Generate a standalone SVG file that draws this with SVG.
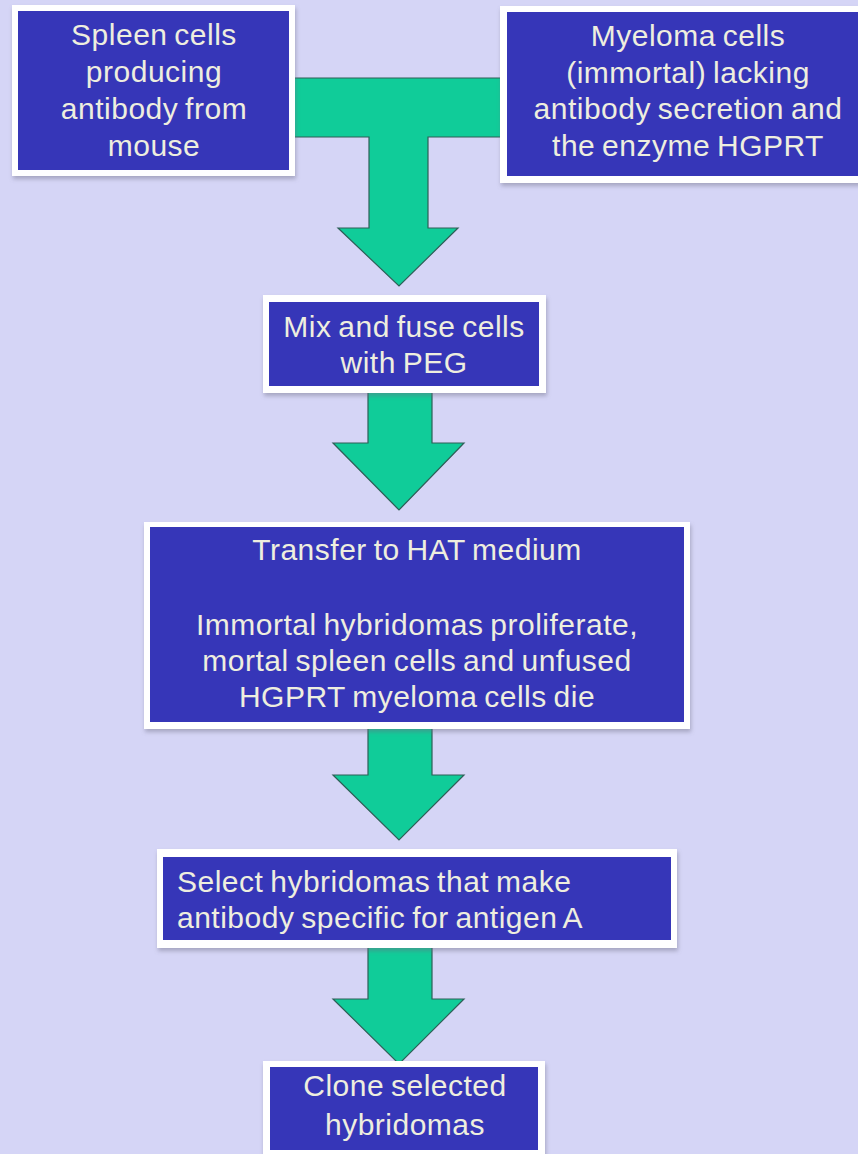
<svg xmlns="http://www.w3.org/2000/svg" width="858" height="1154" viewBox="0 0 858 1154">
  <defs>
    <filter id="shadow" x="-10%" y="-10%" width="120%" height="130%">
      <feDropShadow dx="1" dy="3" stdDeviation="2" flood-color="#6a6a80" flood-opacity="0.45"/>
    </filter>
    <style>
      .frame { fill: #ffffff; filter: url(#shadow); }
      .panel { fill: #3636b8; }
      .label { font-family: "Liberation Sans", Arial, sans-serif; font-size: 30px; fill: #eeeedf; letter-spacing: 0.5px; word-spacing: -2px; }
      .mid { text-anchor: middle; }
      .arrow { fill: #10cc99; stroke: #2e5f57; stroke-width: 1.2; stroke-linejoin: miter; }
    </style>
  </defs>

  <!-- background -->
  <rect x="0" y="0" width="858" height="1154" fill="#d5d5f6"/>

  <!-- connectors: block arrows drawn under the boxes -->
  <g id="connectors">
    <path class="arrow" d="M 290 78 H 505 V 137 H 428 V 228 H 458 L 399 286 L 338 228 H 369 V 137 H 290 Z"/>
    <path class="arrow" d="M 368 388 H 432 V 443 H 464 L 399 510 L 333 443 H 368 Z"/>
    <path class="arrow" d="M 368 724 H 432 V 775 H 464 L 399 840 L 333 775 H 368 Z"/>
    <path class="arrow" d="M 368 944 H 432 V 999 H 464 L 399 1064 L 333 999 H 368 Z"/>
  </g>

  <!-- source: spleen cells -->
  <g id="spleen">
    <rect class="frame" x="12" y="5" width="283" height="171"/>
    <rect class="panel" x="18" y="11" width="271" height="159"/>
    <text class="label mid" x="154" y="45">Spleen cells</text>
    <text class="label mid" x="154" y="82">producing</text>
    <text class="label mid" x="154" y="119">antibody from</text>
    <text class="label mid" x="154" y="156">mouse</text>
  </g>

  <!-- source: myeloma cells -->
  <g id="myeloma">
    <rect class="frame" x="500" y="6" width="376" height="177"/>
    <rect class="panel" x="507" y="12" width="362" height="164"/>
    <text class="label mid" x="688" y="46">Myeloma cells</text>
    <text class="label mid" x="688" y="83">(immortal) lacking</text>
    <text class="label mid" x="688" y="119">antibody secretion and</text>
    <text class="label mid" x="688" y="156">the enzyme HGPRT</text>
  </g>

  <!-- step: fusion -->
  <g id="fuse">
    <rect class="frame" x="263" y="295" width="283" height="98"/>
    <rect class="panel" x="269" y="302" width="270" height="84"/>
    <text class="label mid" x="404" y="337">Mix and fuse cells</text>
    <text class="label mid" x="404" y="373">with PEG</text>
  </g>

  <!-- step: HAT selection -->
  <g id="hat">
    <rect class="frame" x="144" y="522" width="546" height="207"/>
    <rect class="panel" x="150" y="527" width="534" height="195"/>
    <text class="label mid" x="417" y="560">Transfer to HAT medium</text>
    <text class="label mid" x="417" y="635">Immortal hybridomas proliferate,</text>
    <text class="label mid" x="417" y="671">mortal spleen cells and unfused</text>
    <text class="label mid" x="417" y="707">HGPRT myeloma cells die</text>
  </g>

  <!-- step: screening -->
  <g id="select">
    <rect class="frame" x="157" y="849" width="520" height="99"/>
    <rect class="panel" x="163" y="857" width="508" height="83"/>
    <text class="label" x="177" y="892">Select hybridomas that make</text>
    <text class="label" x="177" y="928">antibody specific for antigen A</text>
  </g>

  <!-- step: cloning -->
  <g id="clone">
    <rect class="frame" x="263" y="1061" width="282" height="96"/>
    <rect class="panel" x="270" y="1067" width="268" height="83"/>
    <text class="label mid" x="405" y="1096">Clone selected</text>
    <text class="label mid" x="405" y="1135">hybridomas</text>
  </g>
</svg>
